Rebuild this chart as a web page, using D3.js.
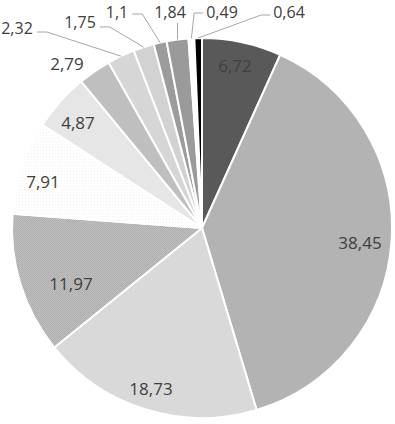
<!DOCTYPE html>
<html><head><meta charset="utf-8">
<script src="https://cdn.jsdelivr.net/npm/d3@7"></script>
<style>html,body{margin:0;padding:0;background:#fff;}svg{display:block;}</style>
</head><body>
<svg id="chart" width="395" height="424"></svg>
<script>
// ---- data ----
const categories = ["A","B","C","D","E","F","G","H","I","J","K","L","M"];
const values = [6.72, 38.45, 18.73, 11.97, 7.91, 4.87, 2.79, 2.32, 1.75, 1.1, 1.84, 0.49, 0.64];
const labels = ["6,72","38,45","18,73","11,97","7,91","4,87","2,79","2,32","1,75","1,1","1,84","0,49","0,64"];

// ---- styles / layout ----
const fills = ["#595959","#b3b3b3","#d9d9d9","url(#pD)","url(#pE)","#e6e6e6","#bfbfbf","#d6d6d6","#d2d2d2","#9c9c9c","#9a9a9a","#ffffff","#000000"];
const outside = [false,false,false,false,false,false,false,true,true,true,true,true,true];
// label text anchor points (center x, baseline y)
const labelPos = [[235,72],[360,249],[151,395],[71,290],[43,188],[78,129],[67,70],[17,34],[80,28],[117,18],[170,18],[222,18],[289,18]];
const leaderY = [0,0,0,0,0,0,0,32,27,14,23,13,15];
const leaderKind = [null,null,null,null,null,null,null,"L","L","L","V","R","R"];

const cx = 202, cy = 228, R = 190;
const svg = d3.select("#chart");
const defs = svg.append("defs");
const pD = defs.append("pattern").attr("id","pD").attr("width",2).attr("height",2).attr("patternUnits","userSpaceOnUse");
pD.append("rect").attr("width",2).attr("height",2).attr("fill","#c0c0c0");
pD.append("rect").attr("width",1).attr("height",1).attr("fill","#ababab");
pD.append("rect").attr("x",1).attr("y",1).attr("width",1).attr("height",1).attr("fill","#b0b0b0");
const pE = defs.append("pattern").attr("id","pE").attr("width",3).attr("height",3).attr("patternUnits","userSpaceOnUse");
pE.append("rect").attr("width",3).attr("height",3).attr("fill","#fefefe");
pE.append("rect").attr("width",1).attr("height",1).attr("fill","#f3f3f3");

const pie = d3.pie().sort(null).value(d => d);
const arcs = pie(values);
const arc = d3.arc().innerRadius(0).outerRadius(R);
const g = svg.append("g").attr("transform",`translate(${cx},${cy})`);

g.selectAll("path.slice").data(arcs).join("path")
  .attr("class","slice")
  .attr("d", arc)
  .attr("fill", (d,i) => fills[i])
  .attr("stroke", "#ffffff")
  .attr("stroke-width", 2)
  .attr("stroke-linejoin","round");

// leader lines
const lines = svg.append("g");
arcs.forEach((d,i) => {
  if (!outside[i]) return;
  const a = (d.startAngle + d.endAngle)/2;
  const ax = cx + R*Math.sin(a), ay = cy - R*Math.cos(a);
  lines.append("path").datum({i, ax, ay}).attr("class","leader")
    .attr("fill","none").attr("stroke","#a6a6a6").attr("stroke-width",1);
});

const texts = svg.append("g").selectAll("text").data(arcs).join("text")
  .attr("x",(d,i)=>labelPos[i][0]).attr("y",(d,i)=>labelPos[i][1])
  .attr("text-anchor","middle")
  .attr("font-family","'Open Sans', sans-serif")
  .attr("font-size",(d,i)=> outside[i] ? 16 : 17)
  .attr("fill","#404040")
  .text((d,i)=>labels[i]);

const widths = [];
texts.each(function(d,i){ widths[i] = this.getComputedTextLength(); });

lines.selectAll("path.leader").attr("d", function(d){
  const i = d.i;
  let pts;
  if (leaderKind[i] === "V") pts = [[d.ax, leaderY[i]],[d.ax, d.ay]];
  else if (leaderKind[i] === "L") {
    const x0 = labelPos[i][0] + widths[i]/2 + 4;
    pts = [[x0, leaderY[i]],[x0+10, leaderY[i]],[d.ax, d.ay]];
  } else {
    const x0 = labelPos[i][0] - widths[i]/2 - 3;
    pts = [[x0, leaderY[i]],[x0-9, leaderY[i]],[d.ax, d.ay]];
  }
  return d3.line()(pts);
});
</script>
</body></html>
